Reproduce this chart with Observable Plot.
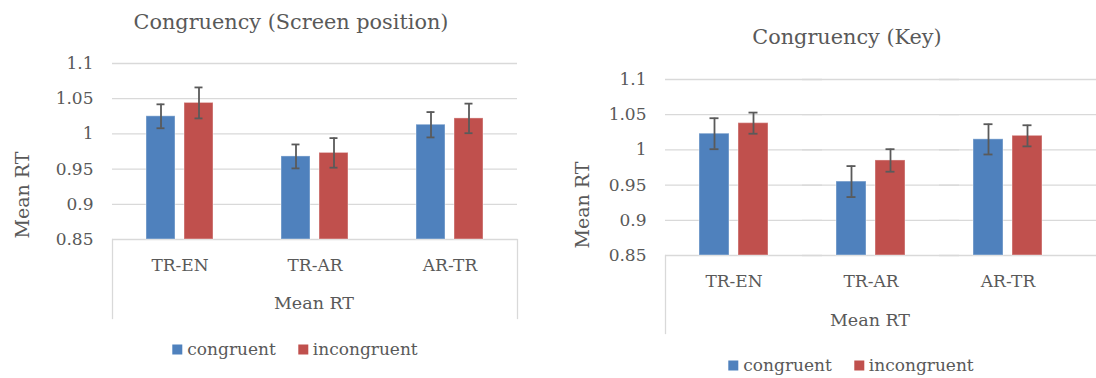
<!DOCTYPE html>
<html><head><meta charset="utf-8">
<script src="https://cdn.jsdelivr.net/npm/d3@7"></script>
<script src="https://cdn.jsdelivr.net/npm/@observablehq/plot@0.6"></script>
<style>
body{margin:0;background:#fff;}
#root{position:relative;width:1096px;height:378px;overflow:hidden;font-family:"DejaVu Serif",serif;color:#595959;}
.abs{position:absolute;white-space:nowrap;line-height:1;}
.c{transform:translate(-50%,-50%);}
.v{transform:translate(-50%,-50%) rotate(-90deg);}
.title{font-size:20.8px;}
.lbl{font-size:17.5px;}
.vlbl{font-size:19px;}
.legend{display:flex;align-items:center;gap:0;font-size:17px;}
.sw{display:inline-block;width:10px;height:10px;margin-right:5px;}
.item{display:flex;align-items:center;margin-right:22px;}
.item:last-child{margin-right:0;}
svg{position:absolute;overflow:visible;}
</style></head>
<body><div id="root"></div>
<script>
const categories = ["TR-EN", "TR-AR", "AR-TR"];
const series = ["congruent", "incongruent"];
const seriesColors = ["#4F81BD", "#C0504D"];
const yTicks = [0.85, 0.9, 0.95, 1, 1.05, 1.1];

// Congruency (Screen position)
const screenCongruent = [1.025, 0.968, 1.013];
const screenCongruentErr = [0.017, 0.017, 0.018];
const screenIncongruent = [1.044, 0.973, 1.022];
const screenIncongruentErr = [0.022, 0.021, 0.021];

// Congruency (Key)
const keyCongruent = [1.023, 0.955, 1.015];
const keyCongruentErr = [0.022, 0.022, 0.0215];
const keyIncongruent = [1.038, 0.985, 1.020];
const keyIncongruentErr = [0.015, 0.016, 0.015];

const titles = ["Congruency (Screen position)", "Congruency (Key)"];
const axisTitle = "Mean RT";

function rows(cong, congErr, incong, incongErr) {
  const out = [];
  categories.forEach((cat, i) => {
    out.push({cat, series: series[0], value: cong[i], err: congErr[i]});
    out.push({cat, series: series[1], value: incong[i], err: incongErr[i]});
  });
  return out;
}

function chart({data, width, height, marginLeft, marginRight, marginTop, marginBottom, boxDepth, extendRight, rightLine}) {
  const plotH = height - marginTop - marginBottom;
  const yMin = yTicks[0], yMax = yTicks[yTicks.length - 1];
  const marks = [
    Plot.gridY(yTicks, {stroke: "#D9D9D9", strokeOpacity: 1, strokeWidth: 1.3, insetRight: -extendRight}),
    Plot.frame({anchor: "left", facetAnchor: "left", insetTop: plotH, insetBottom: -boxDepth, stroke: "#D9D9D9", strokeWidth: 1.3})
  ];
  if (rightLine) marks.push(Plot.frame({anchor: "right", facetAnchor: "right", insetTop: plotH, insetBottom: -boxDepth, stroke: "#D9D9D9", strokeWidth: 1.3}));
  marks.push(
    Plot.axisY({ticks: yTicks, tickSize: 0, tickPadding: 19, tickFormat: d => String(d), label: null}),
    Plot.axisFx({anchor: "bottom", tickSize: 0, tickPadding: 19, label: null}),
    Plot.barY(data, {fx: "cat", x: "series", y1: () => yMin, y2: "value", fill: "series", stroke: "#ffffff", strokeOpacity: 0.35, strokeWidth: 1.2}),
    Plot.ruleX(data, {fx: "cat", x: "series", y1: d => d.value - d.err, y2: d => d.value + d.err, stroke: "#5a5a5a", strokeWidth: 1.8}),
    Plot.tickY(data, {fx: "cat", x: "series", y: d => d.value + d.err, insetLeft: 10.5, insetRight: 10.5, stroke: "#5a5a5a", strokeWidth: 1.8}),
    Plot.tickY(data, {fx: "cat", x: "series", y: d => d.value - d.err, insetLeft: 10.5, insetRight: 10.5, stroke: "#5a5a5a", strokeWidth: 1.8})
  );
  return Plot.plot({
    width, height, marginLeft, marginRight, marginTop, marginBottom,
    style: {fontFamily: "DejaVu Serif, serif", fontSize: "17px", color: "#595959", background: "transparent", overflow: "visible"},
    fx: {domain: categories, padding: 0},
    x: {domain: series, paddingInner: 0.225, paddingOuter: 0.86, axis: null},
    y: {domain: [yMin, yMax]},
    color: {domain: series, range: seriesColors},
    marks
  });
}

const root = document.getElementById("root");
function addText(text, cls, x, y) {
  const d = document.createElement("div");
  d.className = "abs " + cls;
  d.style.left = x + "px"; d.style.top = y + "px";
  d.textContent = text;
  root.appendChild(d);
}
function addLegend(x, y) {
  const d = document.createElement("div");
  d.className = "abs legend c";
  d.style.left = x + "px"; d.style.top = y + "px";
  series.forEach((s, i) => {
    const it = document.createElement("span");
    it.className = "item";
    const sw = document.createElement("span");
    sw.className = "sw"; sw.style.background = seriesColors[i];
    it.appendChild(sw);
    it.appendChild(document.createTextNode(s));
    d.appendChild(it);
  });
  root.appendChild(d);
}

const left = chart({data: rows(screenCongruent, screenCongruentErr, screenIncongruent, screenIncongruentErr),
  width: 540, height: 330, marginLeft: 111, marginRight: 23, marginTop: 63, marginBottom: 91, boxDepth: 79, extendRight: 0, rightLine: true});
left.style.left = "0px"; left.style.top = "0px";
root.appendChild(left);

const right = chart({data: rows(keyCongruent, keyCongruentErr, keyIncongruent, keyIncongruentErr),
  width: 542, height: 345, marginLeft: 111, marginRight: 20, marginTop: 79, marginBottom: 90, boxDepth: 78, extendRight: 20, rightLine: false});
right.style.left = "554px"; right.style.top = "0px";
root.appendChild(right);

addText(titles[0], "title c", 291, 22);
addText(titles[1], "title c", 847, 37);
addText(axisTitle, "vlbl v", 22, 195);
addText(axisTitle, "vlbl v", 582, 205);
addText(axisTitle, "lbl c", 314, 304);
addText(axisTitle, "lbl c", 870, 321);
addLegend(295, 349);
addLegend(851, 365);
</script>
</body></html>
